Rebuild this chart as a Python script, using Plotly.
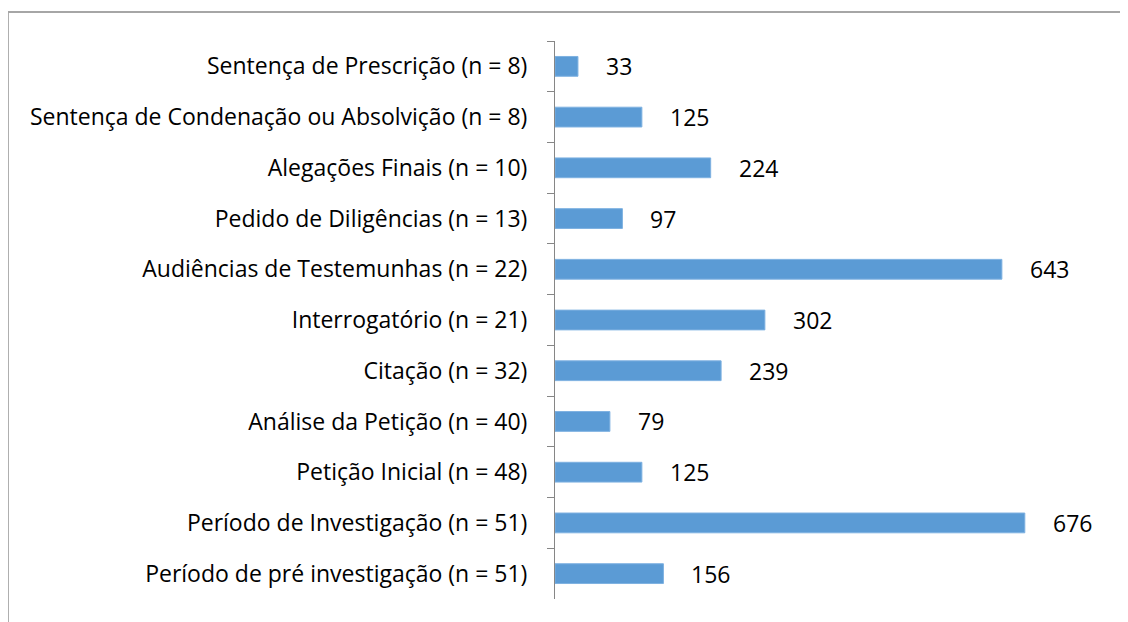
import plotly.graph_objects as go

categories = [
    "Sentença de Prescrição (n = 8)",
    "Sentença de Condenação ou Absolvição (n = 8)",
    "Alegações Finais (n = 10)",
    "Pedido de Diligências (n = 13)",
    "Audiências de Testemunhas (n = 22)",
    "Interrogatório (n = 21)",
    "Citação (n = 32)",
    "Análise da Petição (n = 40)",
    "Petição Inicial (n = 48)",
    "Período de Investigação (n = 51)",
    "Período de pré investigação (n = 51)",
]
values = [33, 125, 224, 97, 643, 302, 239, 79, 125, 676, 156]

FONT = "Open Sans"
FS = 23
fig = go.Figure()
fig.add_trace(go.Bar(
    x=values, y=categories, orientation="h",
    marker=dict(color="#5B9BD5", line=dict(color="#7EB1E1", width=1)),
    width=0.39, hoverinfo="x+y",
))

for c, v in zip(categories, values):
    fig.add_annotation(x=v, y=c, text=str(v), showarrow=False,
                       xanchor="left", xshift=26,
                       font=dict(family=FONT, size=FS, color="#000000"))

# outer chart border (top and left visible)
fig.add_shape(type="line", xref="paper", yref="paper",
              x0=-0.984, x1=1.3, y0=1.052, y1=1.052,
              line=dict(color="#A6A6A6", width=2))
fig.add_shape(type="line", xref="paper", yref="paper",
              x0=-0.984, x1=-0.984, y0=1.052, y1=-0.2,
              line=dict(color="#A6A6A6", width=2))

fig.update_layout(
    width=1120, height=614,
    margin=dict(l=547, r=17, t=33, b=23),
    paper_bgcolor="white", plot_bgcolor="white",
    showlegend=False,
    font=dict(family=FONT, size=FS, color="#000000"),
    xaxis=dict(range=[0, 800], visible=False, fixedrange=True),
    yaxis=dict(autorange="reversed", type="category",
               showline=True, linecolor="#868686", linewidth=1,
               ticks="outside", tickson="boundaries", ticklen=7,
               tickcolor="#868686", tickwidth=1,
               ticklabelstandoff=22,
               tickfont=dict(family=FONT, size=FS, color="#000000"),
               showgrid=False, zeroline=False),
    bargap=0.6,
)

fig.write_html("out.html")
